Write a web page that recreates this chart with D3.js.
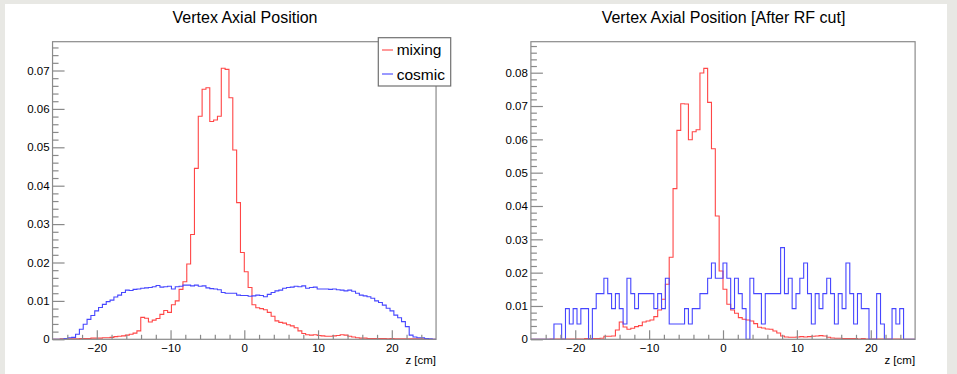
<!DOCTYPE html>
<html><head><meta charset="utf-8">
<script src="https://cdn.jsdelivr.net/npm/d3@7"></script>
<style>
html,body{margin:0;padding:0;background:#fff;}
svg{display:block;font-family:"Liberation Sans",Arial,Helvetica,sans-serif;}
</style></head><body>
<svg id="c" width="957" height="374"></svg>
<script>
// ---- data ----
const zRange = [-26, 26];
const nBins = 100;
const xMajorTicks = [-20, -10, 0, 10, 20];
const xMinorTicks = [-24, -22, -18, -16, -14, -12, -8, -6, -4, -2, 2, 4, 6, 8, 12, 14, 16, 18, 22, 24];
const yTicksLeft = [0, 0.01, 0.02, 0.03, 0.04, 0.05, 0.06, 0.07];
const yTicksRight = [0, 0.01, 0.02, 0.03, 0.04, 0.05, 0.06, 0.07, 0.08];
const titles = ["Vertex Axial Position", "Vertex Axial Position [After RF cut]"];
const xAxisLabel = "z [cm]";
const legendLabels = ["mixing", "cosmic"];

const mixingAll = [
0,0,0.0001,0.0001,0.0001,0.0001,0.0001,0.0002,0.0002,0.0002,
0.0003,0.0003,0.0003,0.0004,0.0004,0.0005,0.0007,0.0008,0.0009,0.0011,
0.0013,0.0016,0.0022,0.0057,0.0055,0.0045,0.0050,0.0054,0.0065,0.0075,
0.0070,0.0090,0.0100,0.0130,0.0150,0.0196,0.0273,0.0445,0.0581,0.0651,
0.0655,0.0567,0.0571,0.0581,0.0706,0.0703,0.0629,0.0493,0.0356,0.0226,
0.0176,0.0135,0.0090,0.0082,0.0080,0.0077,0.0070,0.0060,0.0048,0.0044,
0.0042,0.0038,0.0035,0.0030,0.0022,0.0015,0.0012,0.0011,0.0012,0.0010,
0.0009,0.0008,0.0008,0.0009,0.0010,0.0012,0.0011,0.0008,0.0006,0.0004,
0.0003,0.0003,0.0002,0.0002,0.0002,0.0002,0.0002,0.0001,0.0002,0.0001,
0.0001,0.0001,0.0001,0.0001,0.0001,0.0001,0.0001,0.0001,0,0];

const cosmicAll = [
0,0,0,0.0002,0.0004,0.0005,0.0013,0.0026,0.0039,0.0052,
0.0062,0.0074,0.0083,0.0091,0.0098,0.0102,0.0110,0.0115,0.0122,0.0128,
0.0127,0.0130,0.0131,0.0133,0.0134,0.0135,0.0137,0.0140,0.0136,0.0137,
0.0138,0.0131,0.0137,0.0138,0.0141,0.0141,0.0139,0.0141,0.0138,0.0139,
0.0134,0.0132,0.0131,0.0129,0.0122,0.0120,0.0120,0.0120,0.0115,0.0114,
0.0114,0.0112,0.0113,0.0115,0.0114,0.0111,0.0117,0.0122,0.0126,0.0128,
0.0133,0.0135,0.0136,0.0138,0.0137,0.0139,0.0133,0.0135,0.0136,0.0131,
0.0131,0.0131,0.0130,0.0131,0.0129,0.0128,0.0126,0.0128,0.0125,0.0120,
0.0115,0.0113,0.0111,0.0107,0.0100,0.0096,0.0089,0.0081,0.0074,0.0063,
0.0056,0.0046,0.0033,0.0011,0.0006,0.0004,0.0004,0.0002,0.0001,0];

const mixingRF = [
0,0,0,0,0,0.0001,0.0001,0.0001,0.0001,0.0001,
0.0001,0.0001,0.0001,0.0001,0.0002,0.0002,0.0002,0.0002,0.0003,0.0009,
0.0009,0.0010,0.0028,0.0052,0.0037,0.0030,0.0033,0.0038,0.0041,0.0052,
0.0055,0.0058,0.0068,0.0088,0.0120,0.0165,0.0246,0.0452,0.0627,0.0707,
0.0706,0.0599,0.0623,0.0629,0.0799,0.0813,0.0711,0.0572,0.0370,0.0205,
0.0150,0.0105,0.0088,0.0078,0.0065,0.0060,0.0058,0.0055,0.0047,0.0036,
0.0034,0.0031,0.0030,0.0025,0.0019,0.0010,0.0007,0.0006,0.0006,0.0007,
0.0008,0.0007,0.0008,0.0009,0.0010,0.0011,0.0010,0.0006,0.0004,0.0003,
0.0003,0.0002,0.0002,0.0002,0.0002,0.0001,0.0002,0.0001,0.0001,0.0001,
0.0001,0.0001,0.0001,0.0001,0.0001,0.0001,0,0,0,0];

const cosmicRF = [
0,0,0,0,0,0,0.0046,0.0046,0,0.0092,
0.0046,0.0092,0.0046,0.0092,0.0092,0,0.0092,0.0137,0.0137,0.0183,
0.0137,0.0092,0.0137,0.0092,0.0046,0.0183,0.0137,0.0092,0.0137,0.0137,
0.0137,0.0137,0.0092,0.0137,0.0092,0.0183,0.0046,0.0046,0.0046,0.0046,
0.0092,0.0046,0.0092,0.0092,0.0137,0.0137,0.0183,0.0229,0.0183,0.0183,
0.0229,0.0183,0.0092,0.0183,0.0137,0.0092,0,0.0183,0.0137,0.0137,
0.0046,0.0137,0.0137,0.0137,0.0137,0.0275,0.0137,0.0183,0.0092,0.0137,
0.0183,0.0229,0.0137,0.0046,0.0137,0.0092,0.0137,0.0183,0.0137,0.0046,
0.0137,0.0092,0.0229,0.0137,0.0046,0.0137,0.0092,0.0092,0,0,
0.0137,0.0046,0,0,0.0092,0.0046,0.0092,0,0,0];

// ---- style / layout ----
const RED = "#ff4646", BLUE = "#4646ff";
const AX = "#8a8a8a";
const svg = d3.select("#c");
svg.append("rect").attr("width",957).attr("height",374).attr("fill","#e8e8e4");
svg.append("rect").attr("x",5).attr("y",4).attr("width",942).attr("height",370).attr("fill","#fff");

const panels = [
  {x0:52.55, x1:436.05, y0:41.7, y1:339.3, yMax:0.0775, yTicks:yTicksLeft, series:[mixingAll, cosmicAll], title:titles[0], tx:245, legend:true},
  {x0:530.9, x1:915.1, y0:41.7, y1:339.3, yMax:0.0893, yTicks:yTicksRight, series:[mixingRF, cosmicRF], title:titles[1], tx:723.5, legend:false}
];
const colors = [RED, BLUE];
const edges = d3.range(nBins + 1).map(i => zRange[0] + (zRange[1]-zRange[0]) * i / nBins);

panels.forEach(p => {
  const x = d3.scaleLinear().domain(zRange).range([p.x0, p.x1]);
  const y = d3.scaleLinear().domain([0, p.yMax]).range([p.y1, p.y0]);
  const g = svg.append("g");

  // title
  g.append("text").attr("x", p.tx).attr("y", 22.5).attr("text-anchor","middle")
    .attr("font-size", 16).attr("fill","#000").text(p.title);

  // histograms
  const line = d3.line().x(d => x(d[0])).y(d => y(d[1])).curve(d3.curveStepAfter);
  p.series.forEach((vals, si) => {
    const pts = [[edges[0], 0]];
    vals.forEach((v, i) => pts.push([edges[i], v]));
    pts.push([edges[nBins], vals[nBins-1]]);
    pts.push([edges[nBins], 0]);
    g.append("path").attr("d", line(pts)).attr("fill","none")
      .attr("stroke", colors[si]).attr("stroke-width", 1.1);
  });

  // frame
  g.append("rect").attr("x", p.x0).attr("y", p.y0).attr("width", p.x1-p.x0).attr("height", p.y1-p.y0)
    .attr("fill","none").attr("stroke", AX).attr("stroke-width", 1.2);

  // x axis major
  const xa = g.append("g").attr("transform", `translate(0,${p.y1})`)
    .call(d3.axisBottom(x).tickValues(xMajorTicks).tickSize(-9).tickPadding(4.5).tickFormat(d3.format("d")));
  xa.select(".domain").remove();
  xa.selectAll("line").attr("stroke", AX).attr("stroke-width",1.2);
  xa.selectAll("text").attr("font-size", 11.5).attr("fill","#000").attr("font-family","Liberation Sans, Arial, sans-serif");
  const xm = g.append("g").attr("transform", `translate(0,${p.y1})`)
    .call(d3.axisBottom(x).tickValues(xMinorTicks).tickSize(-4.5).tickFormat(""));
  xm.select(".domain").remove();
  xm.selectAll("line").attr("stroke", AX).attr("stroke-width",1.2);

  // y axis
  const ya = g.append("g").attr("transform", `translate(${p.x0},0)`)
    .call(d3.axisLeft(y).tickValues(p.yTicks).tickSize(-12).tickPadding(3)
      .tickFormat(v => v === 0 ? "0" : d3.format(".2f")(v)));
  ya.select(".domain").remove();
  ya.selectAll("line").attr("stroke", AX).attr("stroke-width",1.2);
  ya.selectAll("text").attr("font-size", 11.5).attr("fill","#000").attr("font-family","Liberation Sans, Arial, sans-serif");
  const yMinor = d3.range(0, p.yMax, 0.002).filter(v => Math.abs(v/0.01 - Math.round(v/0.01)) > 1e-6);
  const ym = g.append("g").attr("transform", `translate(${p.x0},0)`)
    .call(d3.axisLeft(y).tickValues(yMinor).tickSize(-6).tickFormat(""));
  ym.select(".domain").remove();
  ym.selectAll("line").attr("stroke", AX).attr("stroke-width",1.2);

  // x label
  g.append("text").attr("x", p.x1).attr("y", 363.5).attr("text-anchor","end")
    .attr("font-size", 11.5).attr("fill","#000").text(xAxisLabel);

  if (p.legend) {
    const lg = g.append("g");
    lg.append("rect").attr("x", 378.3).attr("y", 37.7).attr("width", 72.4).attr("height", 48.3)
      .attr("fill","#fff").attr("stroke","#707070").attr("stroke-width",1.2);
    legendLabels.forEach((lab, i) => {
      const cy = i === 0 ? 50 : 74;
      lg.append("line").attr("x1", 382).attr("x2", 393).attr("y1", cy).attr("y2", cy)
        .attr("stroke", colors[i]).attr("stroke-width", 1.1);
      lg.append("text").attr("x", 396.7).attr("y", i === 0 ? 55.3 : 79.7)
        .attr("font-size", 15.5).attr("fill","#000").text(lab);
    });
  }
});
</script>
</body></html>
